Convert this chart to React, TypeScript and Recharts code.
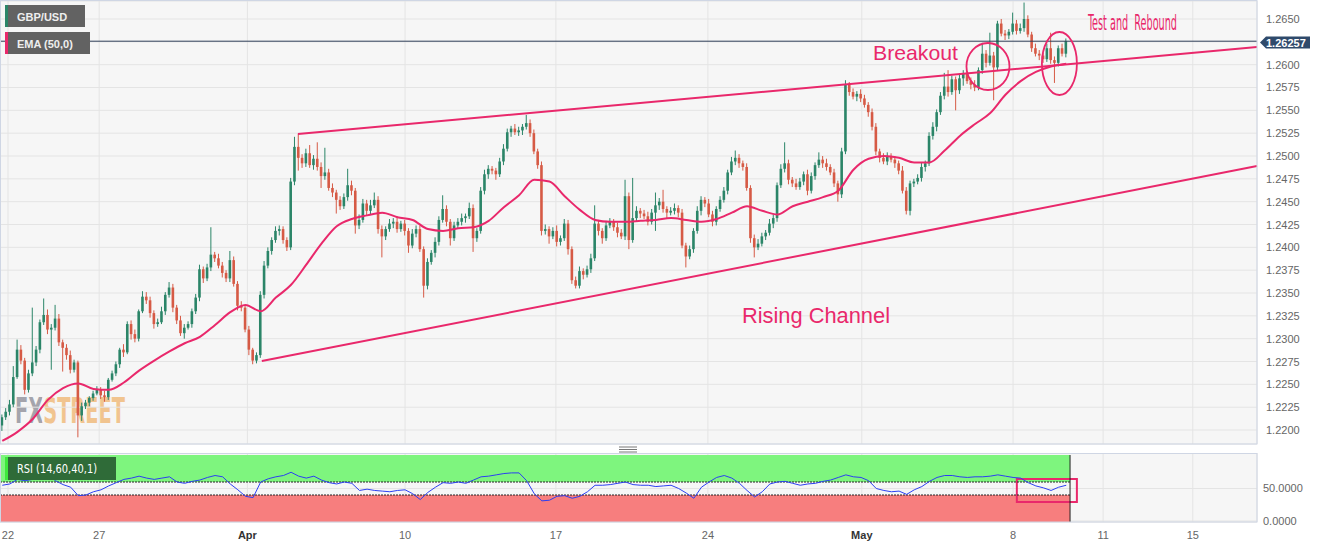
import React from 'react';
import {
  ComposedChart,
  Bar,
  Line,
  XAxis,
  YAxis,
  CartesianGrid,
  ReferenceLine,
  ReferenceArea,
  ReferenceDot,
} from 'recharts';

const GREEN = '#2b8568';
const RED = '#d65a45';
const PINK = '#e9286b';
const FONT = '"Liberation Sans", Arial, sans-serif';
const NARROW = '"Liberation Sans Narrow", "DejaVu Sans Condensed", sans-serif';

// GBP/USD bars (8 per trading day), Mar 22 -> May 9
const firstOpen = 1.2205;
const closes = [
  1.2214, 1.2220, 1.2228, 1.2258, 1.2288, 1.2276, 1.2244, 1.2262, 1.2274, 1.2288,
  1.2318, 1.2326, 1.2310, 1.2312, 1.2322, 1.2296, 1.2290, 1.2282, 1.2266, 1.2274,
  1.2216, 1.2226, 1.2230, 1.2235, 1.2240, 1.2244, 1.2238, 1.2236, 1.2255, 1.2262,
  1.2272, 1.2288, 1.2285, 1.2316, 1.2305, 1.2300, 1.2330, 1.2346, 1.2342, 1.2328,
  1.2316, 1.2318, 1.2330, 1.2348, 1.2356, 1.2334, 1.2320, 1.2306, 1.2312, 1.2316,
  1.2330, 1.2345, 1.2376, 1.2366, 1.2378, 1.2392, 1.2388, 1.2380, 1.2372, 1.2366,
  1.2386, 1.2360, 1.2336, 1.2334, 1.2310, 1.2288, 1.2276, 1.2282, 1.2348, 1.2380,
  1.2396, 1.2408, 1.2418, 1.2420, 1.2408, 1.2400, 1.2472, 1.2510, 1.2498, 1.2492,
  1.2503, 1.2490, 1.2497, 1.2488, 1.2478, 1.2482, 1.2465, 1.2460, 1.2452, 1.2445,
  1.2455, 1.2468, 1.2462, 1.2424, 1.2430, 1.2448, 1.2440, 1.2446, 1.2452, 1.2420,
  1.2412, 1.2420, 1.2426, 1.2428, 1.2420, 1.2426, 1.2418, 1.2402, 1.2415, 1.2420,
  1.2398, 1.2358, 1.2384, 1.2394, 1.2406, 1.2430, 1.2442, 1.2428, 1.2410, 1.2424,
  1.2428, 1.2432, 1.2434, 1.2443, 1.2410, 1.2418, 1.2462, 1.2480, 1.2486, 1.2484,
  1.2480, 1.2494, 1.2508, 1.2526, 1.2530, 1.2526, 1.2528, 1.2532, 1.2536, 1.2525,
  1.2505, 1.2490, 1.2418, 1.2420, 1.2412, 1.2418, 1.2406, 1.2410, 1.2426, 1.2398,
  1.2364, 1.2358, 1.2374, 1.2370, 1.2376, 1.2388, 1.2426, 1.2418, 1.2410, 1.2424,
  1.2428, 1.2422, 1.2416, 1.2412, 1.2456, 1.2408, 1.2432, 1.2440, 1.2437, 1.2434,
  1.2428, 1.2438, 1.2446, 1.2450, 1.2442, 1.2438, 1.2440, 1.2443, 1.2438, 1.2402,
  1.2390, 1.2398, 1.2418, 1.2440, 1.2452, 1.2448, 1.2436, 1.2428, 1.2442, 1.2452,
  1.2462, 1.2482, 1.2494, 1.2498, 1.2492, 1.2488, 1.2465, 1.2410, 1.2400, 1.2404,
  1.2412, 1.2416, 1.2426, 1.2432, 1.2468, 1.2486, 1.2492, 1.2474, 1.2470, 1.2466,
  1.2472, 1.2480, 1.2462, 1.2478, 1.2490, 1.2496, 1.2492, 1.2488, 1.2482, 1.2470,
  1.2458, 1.2505, 1.2578, 1.2570, 1.2565, 1.2568, 1.2563, 1.2556, 1.2548, 1.2532,
  1.2505, 1.2498, 1.2494, 1.2500, 1.2496, 1.2492, 1.2484, 1.2462, 1.2440, 1.2470,
  1.2472, 1.2476, 1.2488, 1.2492, 1.2522, 1.2532, 1.2548, 1.2566, 1.2576, 1.2570,
  1.2584, 1.2572, 1.2585, 1.2590, 1.2582, 1.2578, 1.2575, 1.2594, 1.2612, 1.2602,
  1.2610, 1.2597, 1.2645, 1.2634, 1.2632, 1.2636, 1.2645, 1.2637, 1.2640, 1.2650,
  1.2633, 1.2618, 1.2612, 1.2610, 1.2606, 1.2618, 1.2605, 1.2602, 1.2618, 1.2612,
  1.26257,
];
// wick lengths in pips above / below the body
const wickUp = [
  3, 4, 5, 12, 11, 5, 3, 4, 60, 4,
  3, 18, 6, 4, 15, 5, 3, 4, 5, 3,
  2, 4, 3, 2, 3, 4, 3, 5, 2, 3,
  3, 2, 6, 3, 4, 5, 2, 6, 5, 4,
  3, 4, 5, 3, 6, 4, 3, 5, 4, 3,
  3, 4, 5, 3, 4, 30, 3, 5, 4, 3,
  10, 4, 3, 5, 3, 4, 2, 3, 4, 5,
  4, 3, 5, 4, 3, 3, 4, 11, 14, 4,
  5, 9, 4, 18, 5, 27, 4, 5, 3, 4,
  4, 18, 5, 3, 6, 5, 4, 6, 8, 4,
  4, 3, 5, 4, 6, 3, 4, 3, 5, 4,
  4, 3, 4, 3, 5, 4, 15, 4, 3, 4,
  4, 5, 3, 6, 4, 3, 4, 5, 4, 3,
  3, 4, 5, 4, 3, 5, 4, 3, 9, 4,
  4, 3, 4, 5, 3, 4, 6, 3, 5, 4,
  3, 4, 5, 3, 4, 5, 20, 4, 3, 5,
  4, 3, 5, 4, 18, 4, 44, 5, 3, 4,
  5, 4, 14, 4, 13, 3, 4, 5, 3, 4,
  3, 4, 3, 5, 4, 3, 5, 4, 3, 4,
  4, 3, 5, 8, 4, 3, 4, 3, 4, 5,
  4, 3, 5, 4, 3, 5, 23, 4, 3, 5,
  4, 3, 5, 4, 3, 8, 4, 5, 3, 4,
  3, 4, 5, 3, 4, 3, 5, 4, 3, 4,
  4, 3, 5, 4, 3, 4, 3, 5, 4, 3,
  3, 4, 5, 3, 4, 5, 3, 4, 15, 18,
  4, 3, 5, 4, 3, 4, 5, 3, 12, 4,
  25, 4, 3, 5, 4, 3, 12, 4, 5, 18,
  4, 3, 5, 4, 3, 5, 17, 4, 3, 5,
  3,
];
const wickDn = [
  6, 3, 4, 3, 2, 4, 5, 3, 3, 4,
  4, 3, 5, 44, 3, 4, 26, 5, 4, 3,
  24, 6, 3, 4, 3, 2, 4, 5, 3, 2,
  3, 4, 5, 2, 6, 4, 3, 2, 4, 5,
  5, 3, 2, 4, 3, 5, 4, 3, 6, 2,
  4, 3, 4, 5, 3, 4, 4, 3, 5, 4,
  4, 3, 5, 4, 3, 6, 4, 3, 3, 4,
  3, 4, 3, 5, 4, 4, 3, 4, 14, 5,
  4, 3, 5, 4, 13, 4, 3, 5, 15, 4,
  3, 4, 5, 9, 4, 3, 5, 4, 3, 5,
  23, 4, 3, 5, 4, 3, 5, 8, 3, 4,
  3, 13, 4, 3, 5, 4, 3, 5, 8, 3,
  3, 4, 5, 3, 15, 4, 3, 4, 5, 4,
  6, 3, 4, 3, 5, 3, 4, 5, 3, 4,
  3, 4, 5, 4, 8, 3, 5, 4, 3, 6,
  4, 3, 3, 5, 3, 4, 3, 5, 6, 3,
  3, 4, 5, 3, 4, 10, 3, 4, 5, 3,
  4, 3, 20, 5, 4, 6, 3, 4, 5, 3,
  12, 3, 4, 3, 5, 4, 3, 5, 4, 3,
  3, 4, 3, 4, 5, 4, 3, 5, 11, 3,
  3, 4, 3, 5, 4, 3, 4, 5, 4, 3,
  3, 4, 5, 3, 4, 3, 5, 4, 3, 4,
  8, 4, 3, 4, 3, 5, 4, 3, 5, 4,
  4, 5, 3, 4, 3, 5, 4, 3, 4, 5,
  4, 3, 4, 5, 3, 4, 5, 3, 4, 5,
  3, 22, 4, 8, 3, 5, 4, 3, 4, 5,
  3, 36, 4, 3, 5, 4, 3, 4, 3, 4,
  3, 4, 3, 5, 4, 3, 4, 22, 4, 3,
  4,
];
// EMA(50) read every 4th bar
const emaEvery4 = [
  1.2188, 1.2198, 1.2212, 1.2233, 1.2246, 1.2251, 1.2245, 1.2244, 1.2252, 1.2265,
  1.2276, 1.2286, 1.2295, 1.2302, 1.2315, 1.2329, 1.2337, 1.2330, 1.2345, 1.2359,
  1.2381, 1.2404, 1.2423, 1.2431, 1.2435, 1.2438, 1.2433, 1.2430, 1.2420, 1.2418,
  1.2421, 1.2422, 1.2429, 1.2444, 1.2457, 1.2474, 1.2472, 1.2456, 1.2441, 1.2430,
  1.2428, 1.2428, 1.2429, 1.2430, 1.2432, 1.2430, 1.2428, 1.2431, 1.2438, 1.2445,
  1.2440, 1.2436, 1.2445, 1.2450, 1.2455, 1.2462, 1.2485, 1.2497, 1.2500, 1.2498,
  1.2493, 1.2493, 1.2506, 1.2522, 1.2535, 1.2547, 1.2567, 1.2582, 1.2592, 1.2598,
  1.2601,
];
// RSI(14) read every 2nd bar
const rsiEvery2 = [
  55, 57, 64, 62, 64, 69, 71, 62, 56, 52, 39, 40, 45, 48, 54, 59, 64, 66, 69, 66,
  64, 66, 68, 60, 58, 61, 63, 67, 70, 68, 57, 48, 38, 36, 60, 65, 68, 70, 75, 69,
  66, 69, 63, 59, 57, 60, 58, 47, 49, 47, 46, 45, 47, 48, 42, 33, 44, 52, 59, 58,
  60, 58, 63, 68, 69, 71, 73, 74, 74, 62, 42, 31, 32, 38, 39, 35, 38, 45, 55, 55,
  56, 58, 60, 56, 55, 55, 53, 54, 55, 50, 43, 35, 52, 60, 67, 70, 66, 58, 47, 37,
  45, 57, 60, 61, 58, 55, 57, 58, 61, 63, 67, 71, 68, 67, 62, 50, 47, 45, 46, 41,
  48, 53, 61, 67, 70, 70, 68, 67, 68, 68, 69, 71, 69, 67, 66, 59, 54, 51, 47, 52,
  55,
];
const dayTicks = [0, 24, 63, 104.5, 144.2, 184.2, 224.7, 264.5, 288.2, 311.8];
const dayLabels = ['22', '27', 'Apr', '10', '17', '24', 'May', '8', '11', '15'];
const priceTicks = [
  1.22, 1.2225, 1.225, 1.2275, 1.23, 1.2325, 1.235, 1.2375, 1.24, 1.2425,
  1.245, 1.2475, 1.25, 1.2525, 1.255, 1.2575, 1.26, 1.2625, 1.265,
];
const lastPrice = 1.26257;
const upperLine = [{ x: 76.3, y: 1.25241 }, { x: 328.7, y: 1.26193 }];
const lowerLine = [{ x: 66.8, y: 1.22755 }, { x: 328.7, y: 1.2489 }];
const circled = [
  { x: 257.9, y: 1.2598, rx: 21.5, ry: 23.5 },
  { x: 276.7, y: 1.26013, rx: 17.5, ry: 31.5 },
];
const rsiBox = { x1: 265.5, x2: 281.3, y1: 29.2, y2: 64.6 };
const lastBarT = 279.5;
const X_DOMAIN: [number, number] = [-2.1, 328.7];

const bars = closes.map((c, i) => {
  const o = i === 0 ? firstOpen : closes[i - 1];
  const h = Math.max(o, c) + wickUp[i] / 10000;
  const l = Math.min(o, c) - wickDn[i] / 10000;
  return {
    t: i - 1.5,
    o,
    c,
    h,
    l,
    range: [l, h],
    ema: i % 4 === 0 ? emaEvery4[i / 4] : null,
    rsi: i % 2 === 0 ? rsiEvery2[i / 2] : null,
  };
});

function Candle(props: any) {
  const { x, y, width, height, payload } = props;
  if (x == null || y == null || !payload) return null;
  const top = Math.min(y, y + height);
  const bot = Math.max(y, y + height);
  const span = payload.h - payload.l || 1e-9;
  const py = (p: number) => top + ((payload.h - p) / span) * (bot - top);
  const cx = x + width / 2;
  const color = payload.c >= payload.o ? GREEN : RED;
  const bt = py(Math.max(payload.o, payload.c));
  const bb = py(Math.min(payload.o, payload.c));
  return (
    <g>
      <line x1={cx} x2={cx} y1={top} y2={bot} stroke={color} strokeWidth={1} />
      <rect x={cx - 1.3} y={bt} width={2.6} height={Math.max(bb - bt, 1)} fill={color} />
    </g>
  );
}

function DateTick(props: any) {
  const { x, y, payload } = props;
  const label = dayLabels[dayTicks.indexOf(payload.value)] ?? '';
  const bold = label === 'Apr' || label === 'May';
  return (
    <text
      x={x}
      y={y + 17}
      textAnchor="middle"
      fontSize={11}
      fontWeight={bold ? 700 : 400}
      fill={bold ? '#333' : '#666'}
      fontFamily={FONT}
    >
      {label}
    </text>
  );
}

// the 1.2625 label sits under the last-price tag, as in the source
function PriceTick(props: any) {
  const { x, y, payload } = props;
  if (Math.abs(payload.value - 1.2625) < 1e-6) return null;
  return (
    <text x={x} y={y} dy={4} fontSize={11} fill="#666" textAnchor="start" fontFamily={FONT}>
      {Number(payload.value).toFixed(4)}
    </text>
  );
}

export default function App() {
  return (
    <div style={{ position: 'relative', width: 1328, height: 548, fontFamily: FONT, background: '#fff' }}>
      <style>{'body{margin:0}'}</style>

      {/* panel backgrounds and watermark, under the charts */}
      <svg width={1328} height={548} style={{ position: 'absolute', left: 0, top: 0 }}>
        <defs>
          <linearGradient id="wm" gradientUnits="userSpaceOnUse" x1={15} y1={0} x2={125} y2={0}>
            <stop offset="0.245" stopColor="#a4a4ac" />
            <stop offset="0.245" stopColor="#f1c48f" />
          </linearGradient>
        </defs>
        <rect x={0} y={0} width={1257} height={444} fill="#f6f6f6" />
        <rect x={0} y={453} width={1257} height={69} fill="#f6f6f6" />
        <text x={15} y={423} fontSize={35} fontWeight={700} fill="url(#wm)" fontFamily={NARROW} textLength={110} lengthAdjust="spacingAndGlyphs">
          FXSTREET
        </text>
      </svg>

      <div style={{ position: 'absolute', left: 0, top: 0 }}>
        <ComposedChart width={1328} height={446} data={bars} margin={{ top: 1, right: 0, bottom: 2, left: 0 }}>
          <CartesianGrid stroke="#e4e4e4" />
          <XAxis type="number" dataKey="t" domain={X_DOMAIN} ticks={dayTicks} allowDataOverflow hide />
          <YAxis
            orientation="right"
            width={71}
            domain={[1.21847, 1.26697]}
            ticks={priceTicks}
            interval={0}
            allowDataOverflow
            axisLine={false}
            tickLine={false}
            tickSize={0}
            tickMargin={9}
            tick={(p: any) => <PriceTick {...p} />}
          />
          <ReferenceLine y={lastPrice} stroke="#2d3d58" strokeWidth={1} />
          <Bar dataKey="range" barSize={3} shape={(p: any) => <Candle {...p} />} isAnimationActive={false} />
          <Line
            dataKey="ema"
            type="monotone"
            connectNulls
            dot={false}
            stroke={PINK}
            strokeWidth={2}
            isAnimationActive={false}
          />
          <ReferenceLine segment={upperLine} stroke={PINK} strokeWidth={2} />
          <ReferenceLine segment={lowerLine} stroke={PINK} strokeWidth={2} />
          {circled.map((c, i) => (
            <ReferenceDot
              key={i}
              x={c.x}
              y={c.y}
              r={10}
              shape={(p: any) => (
                <ellipse cx={p.cx} cy={p.cy} rx={c.rx} ry={c.ry} fill="none" stroke={PINK} strokeWidth={1.8} />
              )}
            />
          ))}
        </ComposedChart>
      </div>

      <div style={{ position: 'absolute', left: 0, top: 453 }}>
        <ComposedChart width={1328} height={95} data={bars} margin={{ top: 0, right: 0, bottom: 0, left: 0 }}>
          <CartesianGrid stroke="#e4e4e4" />
          <XAxis
            type="number"
            dataKey="t"
            domain={X_DOMAIN}
            ticks={dayTicks}
            interval={0}
            allowDataOverflow
            height={26}
            axisLine={false}
            tickLine={false}
            tickSize={0}
            tickMargin={0}
            tick={(p: any) => <DateTick {...p} />}
          />
          <YAxis
            orientation="right"
            width={71}
            domain={[-1.5, 104.6]}
            ticks={[0, 50]}
            interval={0}
            allowDataOverflow
            axisLine={false}
            tickLine={false}
            tickSize={0}
            tickMargin={6}
            tick={{ fontSize: 11, fill: '#666' }}
            tickFormatter={(v: number) => v.toFixed(4)}
          />
          <ReferenceArea x1={X_DOMAIN[0]} x2={lastBarT} y1={60} y2={101.5} fill="#7ef57e" fillOpacity={1} stroke="none" />
          <ReferenceArea x1={X_DOMAIN[0]} x2={lastBarT} y1={-1.5} y2={40} fill="#f77e7e" fillOpacity={1} stroke="none" />
          <ReferenceLine segment={[{ x: X_DOMAIN[0], y: 60 }, { x: lastBarT, y: 60 }]} stroke="#222" strokeDasharray="2 1" />
          <ReferenceLine segment={[{ x: X_DOMAIN[0], y: 40 }, { x: lastBarT, y: 40 }]} stroke="#222" strokeDasharray="2 1" />
          <ReferenceLine segment={[{ x: lastBarT, y: -1.5 }, { x: lastBarT, y: 101.5 }]} stroke="#222" />
          <Line
            dataKey="rsi"
            type="linear"
            connectNulls
            dot={false}
            stroke="#2b3ff2"
            strokeWidth={1}
            isAnimationActive={false}
          />
          <ReferenceArea
            x1={rsiBox.x1}
            x2={rsiBox.x2}
            y1={rsiBox.y1}
            y2={rsiBox.y2}
            fill="none"
            fillOpacity={0}
            stroke={PINK}
            strokeWidth={2}
          />
        </ComposedChart>
      </div>

      {/* labels and annotations */}
      <svg width={1328} height={548} style={{ position: 'absolute', left: 0, top: 0, pointerEvents: 'none' }}>
        <rect x={0.5} y={0.5} width={1256.5} height={443.5} fill="none" stroke="#cfd6e4" />
        <rect x={0.5} y={453.5} width={1256.5} height={68.5} fill="none" stroke="#cfd6e4" />
        <line x1={619} x2={637} y1={447} y2={447} stroke="#777" />
        <line x1={619} x2={637} y1={449.5} y2={449.5} stroke="#777" />
        <line x1={619} x2={637} y1={452} y2={452} stroke="#777" />

        <rect x={5} y={5} width={80} height={22} fill="#626262" />
        <rect x={5} y={5} width={3} height={22} fill={GREEN} />
        <text x={17} y={20.5} fontSize={11} fontWeight={700} fill="#eee">GBP/USD</text>
        <rect x={5} y={32} width={85} height={22} fill="#626262" />
        <rect x={5} y={32} width={3} height={22} fill={PINK} />
        <text x={17} y={48} fontSize={11} fontWeight={700} fill="#eee">EMA (50,0)</text>

        <polygon points="1260,42.5 1266,36.5 1310,36.5 1310,48.5 1266,48.5" fill="#2f4a6b" />
        <text x={1266} y={46.5} fontSize={11} fontWeight={700} fill="#fff">1.26257</text>

        <rect x={5} y={457} width={111} height={23} fill="#2f6b38" />
        <rect x={5} y={457} width={3} height={23} fill="#3ee83e" />
        <text x={17} y={473} fontSize={13} fill="#fff" fontFamily={NARROW} textLength={80} lengthAdjust="spacingAndGlyphs">
          RSI (14,60,40,1)
        </text>

        <text x={873} y={59.5} fontSize={21} fill={PINK} textLength={85} lengthAdjust="spacingAndGlyphs">Breakout</text>
        <text x={1088} y={30} fontSize={21} fill={PINK} fontFamily={NARROW} textLength={89} lengthAdjust="spacingAndGlyphs" style={{ whiteSpace: 'pre' }}>
          Test and  Rebound
        </text>
        <text x={742} y={323} fontSize={22} fill={PINK} textLength={148} lengthAdjust="spacingAndGlyphs">Rising Channel</text>
      </svg>
    </div>
  );
}
